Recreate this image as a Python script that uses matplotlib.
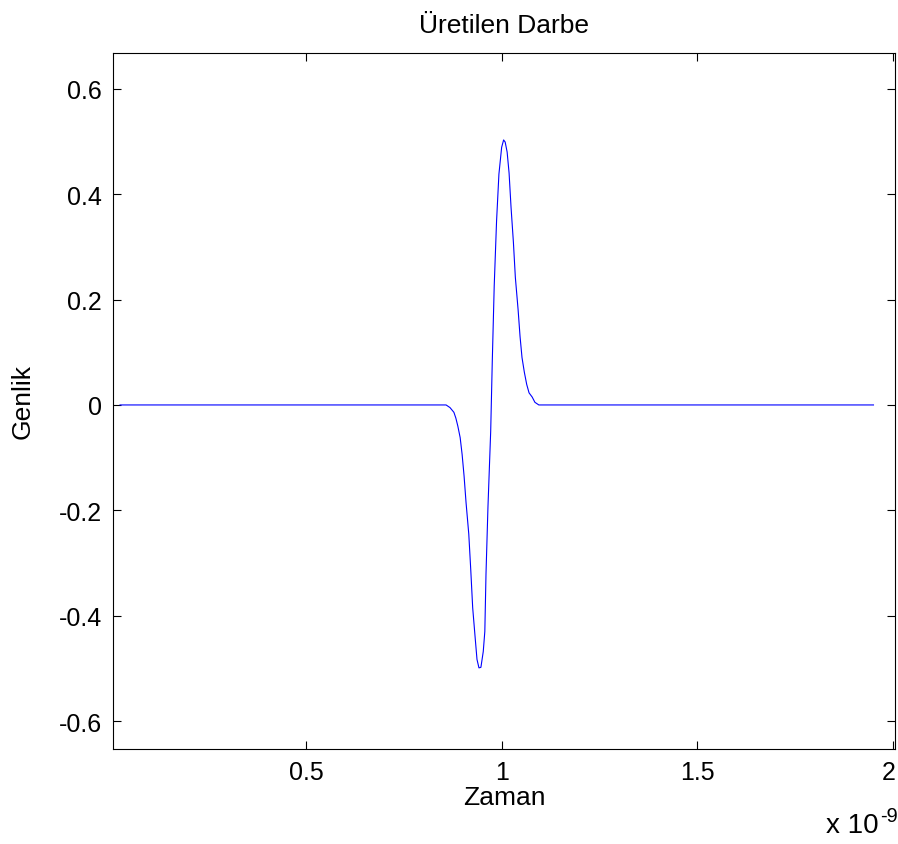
"""
Üretilen Darbe - generated pulse (Gaussian-doublet-like), MATLAB-style plot.
Values read off the reference picture; time in ns (shown as x 10^-9).
"""

import matplotlib
matplotlib.use("Agg")
import matplotlib.pyplot as plt
from matplotlib.transforms import ScaledTranslation

# time axis (ns) and amplitude at the visible vertices of the trace
zaman = [0.025, 0.858, 0.868, 0.878, 0.883, 0.888, 0.894, 0.899, 0.904, 0.909,
         0.916, 0.921, 0.926, 0.932, 0.937, 0.942, 0.947, 0.953, 0.957, 0.960,
         0.965, 0.972, 0.976, 0.981, 0.987, 0.993, 1.000, 1.005, 1.009, 1.014,
         1.019, 1.024, 1.030, 1.035, 1.042, 1.047, 1.052, 1.058, 1.064, 1.070,
         1.078, 1.085, 1.095, 1.950]
genlik = [0.0, 0.0, -0.005, -0.014, -0.025, -0.040, -0.062, -0.094, -0.135, -0.185,
          -0.245, -0.312, -0.385, -0.439, -0.483, -0.499, -0.498, -0.468, -0.430, -0.321,
          -0.194, -0.050, 0.081, 0.226, 0.349, 0.438, 0.489, 0.503, 0.499, 0.480,
          0.440, 0.375, 0.309, 0.242, 0.181, 0.130, 0.090, 0.062, 0.039, 0.023,
          0.015, 0.005, 0.0, 0.0]

xticks = [0.5, 1.0, 1.5, 2.0]
xtick_labels = ["0.5", "1", "1.5", "2"]
yticks = [-0.6, -0.4, -0.2, 0.0, 0.2, 0.4, 0.6]
ytick_labels = ["-0.6", "-0.4", "-0.2", "0", "0.2", "0.4", "0.6"]

plt.rcParams["font.family"] = ["Liberation Sans", "DejaVu Sans"]
FS = 18

fig = plt.figure(figsize=(8.98, 8.45), dpi=100)
ax = fig.add_axes([113 / 898, 95 / 845, 782 / 898, 696 / 845])

ax.plot(zaman, genlik, color="#0000ff", linewidth=0.8)

ax.set_xlim(0.007, 2.005)
ax.set_ylim(-0.653, 0.668)
ax.set_xticks(xticks)
ax.set_xticklabels(xtick_labels)
ax.set_yticks(yticks)
ax.set_yticklabels(ytick_labels)
ax.tick_params(direction="in", length=6, width=0.8, top=True, right=True,
               labelsize=FS)
ax.tick_params(axis="x", pad=8)
ax.tick_params(axis="y", pad=8)
for s in ax.spines.values():
    s.set_linewidth(0.8)

# keep the "2" inside the canvas
last = ax.get_xticklabels()[-1]
last.set_transform(last.get_transform() + ScaledTranslation(-4 / 100, 0, fig.dpi_scale_trans))

ax.set_title("Üretilen Darbe", fontsize=FS + 1, pad=15)
ax.set_xlabel("Zaman", fontsize=FS + 1)
ax.xaxis.set_label_coords(0.5, -0.052)
ax.set_ylabel("Genlik", fontsize=FS + 1)
ax.yaxis.set_label_coords(-0.1, 0.5)

# exponent of the x axis, MATLAB style
fig.text(879 / 898, 6 / 845, "x 10", fontsize=FS + 2, ha="right", va="bottom")
fig.text(880 / 898, 19 / 845, "-9", fontsize=FS * 0.8, ha="left", va="bottom")

fig.savefig("out.png", dpi=100)
